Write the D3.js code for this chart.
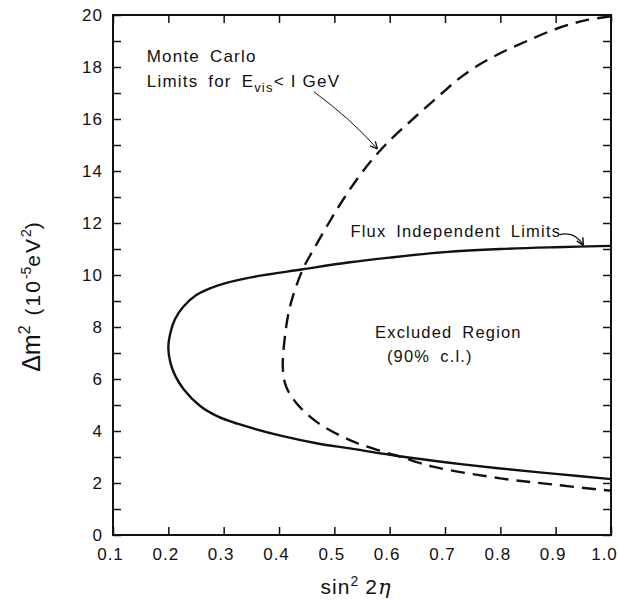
<!DOCTYPE html>
<meta charset="utf-8">
<style>
body{margin:0;background:#fff;}
text{font-family:"Liberation Sans",Arial,sans-serif;fill:#111;}
.tick text{font-size:17px;letter-spacing:1px;}
.tick line{stroke:#111;stroke-width:1.5;}
.note{font-size:16.5px;letter-spacing:1.2px;word-spacing:4px;}
</style>
<body>
<div id="chart"></div>
<script src="https://cdnjs.cloudflare.com/ajax/libs/d3/7.8.5/d3.min.js"></script>
<script>
// values: sin^2 2eta against delta m^2 (1e-5 eV^2)
var fluxSin2 = [1.0, 0.9, 0.8, 0.7, 0.6, 0.528, 0.443, 0.347, 0.29, 0.25, 0.227, 0.212, 0.204, 0.2,
	0.204, 0.213, 0.228, 0.257, 0.29, 0.325, 0.407, 0.47, 0.528, 0.618, 0.708, 0.8, 0.9, 1.0];
var fluxDm2  = [11.12, 11.07, 11.0, 10.88, 10.67, 10.49, 10.22, 9.9, 9.6, 9.22, 8.78, 8.3, 7.8, 7.2,
	6.6, 6.1, 5.6, 4.97, 4.55, 4.28, 3.8, 3.52, 3.33, 3.03, 2.78, 2.56, 2.35, 2.15];

var mcSin2 = [1.0, 0.955, 0.905, 0.848, 0.797, 0.755, 0.722, 0.695, 0.642, 0.592, 0.552, 0.519, 0.49, 0.463, 0.443,
	0.42, 0.41, 0.407, 0.413, 0.432, 0.468, 0.528, 0.588, 0.618, 0.678, 0.8, 0.9, 1.0];
var mcDm2  = [19.95, 19.8, 19.5, 19.0, 18.5, 18.0, 17.5, 17.0, 16.0, 15.0, 14.0, 13.0, 12.0, 11.0, 10.22,
	8.8, 7.5, 6.4, 5.7, 5.06, 4.35, 3.65, 3.2, 3.02, 2.63, 2.18, 1.93, 1.7];

var xTicks = [0.1, 0.2, 0.3, 0.4, 0.5, 0.6, 0.7, 0.8, 0.9, 1.0];
var yTicks = d3.range(0, 21, 1);
var yLabels = [0, 2, 4, 6, 8, 10, 12, 14, 16, 18, 20];

var margin = {top: 15, right: 7, bottom: 68, left: 113};
var width = 618 - margin.left - margin.right;
var height = 603 - margin.top - margin.bottom;

var svg = d3.select("#chart").append("svg")
	.attr("width", 618).attr("height", 603);
var g = svg.append("g").attr("transform", "translate(" + margin.left + "," + margin.top + ")");

var x = d3.scaleLinear().domain([0.1, 1.0]).range([0, width]);
var y = d3.scaleLinear().domain([0, 20]).range([height, 0]);

// axes, ticks point inward on all four sides
g.append("g").attr("class", "xaxis")
	.attr("transform", "translate(0," + height + ")")
	.call(d3.axisBottom(x).tickValues(xTicks).tickSize(-8).tickPadding(13).tickFormat(d3.format(".1f")))
	.call(function(a){ a.select(".domain").remove(); });
g.append("g")
	.call(d3.axisTop(x).tickValues(xTicks).tickSize(-8).tickFormat(""))
	.call(function(a){ a.select(".domain").remove(); });
g.append("g").attr("class", "yaxis")
	.call(d3.axisLeft(y).tickValues(yTicks).tickSize(-8).tickPadding(10)
		.tickFormat(function(d){ return yLabels.indexOf(d) >= 0 ? d : ""; }))
	.call(function(a){ a.select(".domain").remove(); });
g.append("g")
	.attr("transform", "translate(" + width + ",0)")
	.call(d3.axisRight(y).tickValues(yTicks).tickSize(-8).tickFormat(""))
	.call(function(a){ a.select(".domain").remove(); });

g.selectAll(".tick text").attr("fill", "#111");
g.selectAll(".xaxis .tick text").attr("dx", function(d){ return d === 1.0 ? -7 : -3; });

g.append("rect")
	.attr("width", width).attr("height", height)
	.attr("fill", "none").attr("stroke", "#111").attr("stroke-width", 2);

var line = d3.line()
	.x(function(d){ return x(d[0]); })
	.y(function(d){ return y(d[1]); })
	.curve(d3.curveCatmullRom.alpha(0.5));

g.append("path")
	.datum(d3.zip(fluxSin2, fluxDm2))
	.attr("d", line)
	.attr("fill", "none").attr("stroke", "#111").attr("stroke-width", 2.4);

g.append("path")
	.datum(d3.zip(mcSin2, mcDm2))
	.attr("d", line)
	.attr("fill", "none").attr("stroke", "#111").attr("stroke-width", 2.4)
	.attr("stroke-dasharray", "14,8");

// annotations
function note(sx, dm, str){
	return g.append("text").attr("class", "note")
		.attr("x", x(sx)).attr("y", y(dm)).text(str);
}
note(0.161, 18.2, "Monte Carlo").style("font-size", "17px");
var lim = g.append("text").attr("class", "note").style("font-size", "17px")
	.attr("x", x(0.161)).attr("y", y(17.25));
lim.append("tspan").text("Limits for E");
lim.append("tspan").attr("dy", 5).style("font-size", "13px").text("vis");
lim.append("tspan").attr("dy", -5).style("word-spacing", "0px").text("< I GeV");

note(0.529, 11.45, "Flux Independent Limits");
note(0.5735, 7.56, "Excluded Region");
var cl = note(0.595, 6.67, "(90%");
cl.append("tspan").attr("dx", 10).text("c.l.)");

function arrow(x0, y0, cx, cy, x1, y1, w){
	g.append("path")
		.attr("d", "M" + x(x0) + "," + y(y0) + "Q" + x(cx) + "," + y(cy) + " " + x(x1) + "," + y(y1))
		.attr("fill", "none").attr("stroke", "#111").attr("stroke-width", w);
	var ang = Math.atan2(y(y1) - y(cy), x(x1) - x(cx));
	var hl = 8;
	[-0.45, 0.45].forEach(function(o){
		g.append("line")
			.attr("x1", x(x1)).attr("y1", y(y1))
			.attr("x2", x(x1) - hl * Math.cos(ang + o))
			.attr("y2", y(y1) - hl * Math.sin(ang + o))
			.attr("stroke", "#111").attr("stroke-width", w + 0.3);
	});
}
arrow(0.463, 17.05, 0.53, 16.0, 0.578, 14.85, 1);
arrow(0.907, 11.55, 0.935, 11.7, 0.95, 11.14, 1.2);

// axis titles
var xt = svg.append("text")
	.attr("x", 356).attr("y", 594)
	.attr("text-anchor", "middle")
	.style("font-size", "21px").style("letter-spacing", "1px");
xt.append("tspan").text("sin");
xt.append("tspan").attr("dy", -8).style("font-size", "14px").text("2");
xt.append("tspan").attr("dy", 8).attr("dx", 6).text("2");
xt.append("tspan").style("font-style", "italic").style("font-family", "'DejaVu Serif',serif").text("η");

var yt = svg.append("text")
	.attr("transform", "translate(40,297) rotate(-90)")
	.attr("text-anchor", "middle")
	.style("font-size", "25px");
yt.append("tspan").text("Δm");
yt.append("tspan").attr("dy", -10).style("font-size", "16px").text("2");
yt.append("tspan").attr("dy", 10).attr("dx", 10).style("font-size", "21px").style("letter-spacing", "2px").text("(10");
yt.append("tspan").attr("dy", -9).style("font-size", "14px").text("-5");
yt.append("tspan").attr("dy", 9).style("font-size", "21px").style("letter-spacing", "2px").text("eV");
yt.append("tspan").attr("dy", -9).style("font-size", "14px").text("2");
yt.append("tspan").attr("dy", 9).style("font-size", "21px").text(")");
</script>
</body>
